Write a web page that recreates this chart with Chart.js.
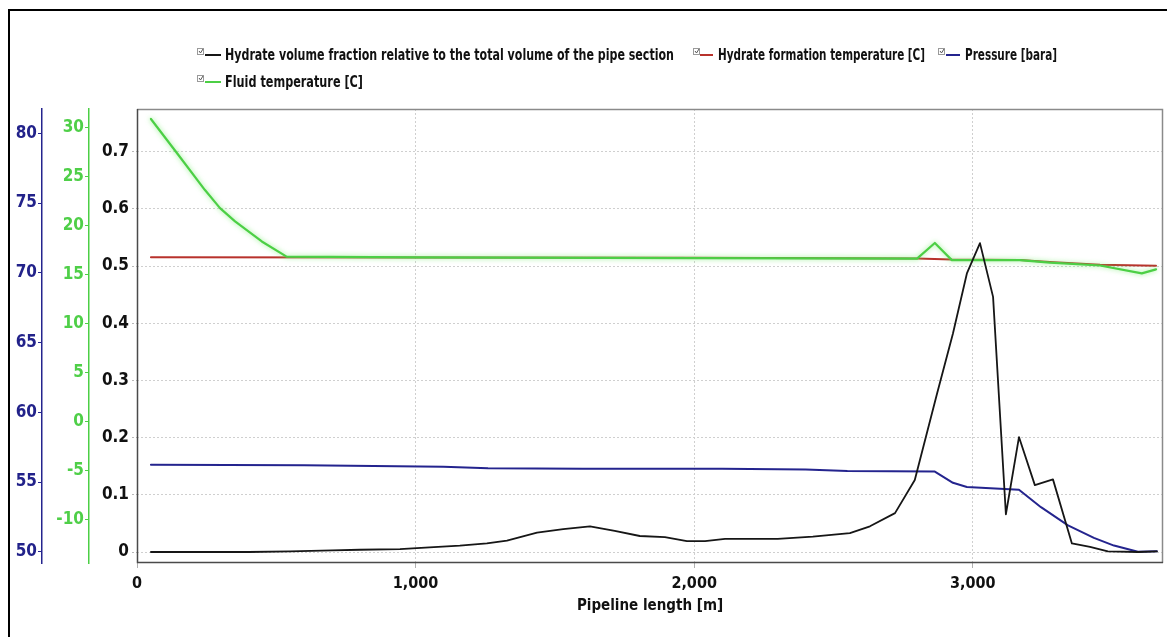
<!DOCTYPE html>
<html><head><meta charset="utf-8">
<script src="https://cdn.jsdelivr.net/npm/chart.js@4.4.1/dist/chart.umd.min.js"></script>
<style>
html,body{margin:0;padding:0;background:#fff;}
#wrap{position:relative;width:1167px;height:637px;overflow:hidden;background:#fff;}
#frame{position:absolute;left:8px;top:9px;width:1300px;height:800px;border-left:2.5px solid #000;border-top:2.5px solid #000;}
canvas{position:absolute;left:0;top:0;}
</style></head><body>
<div id="wrap"><div id="frame"></div><canvas id="c" width="1167" height="637"></canvas></div>
<script>
// ---- data ----
const hydrateLen = [50, 200, 400, 550, 700, 800, 944, 1050, 1159, 1256, 1328, 1436, 1530, 1626, 1715, 1805, 1895, 1974, 2039, 2111, 2200, 2300, 2426, 2559, 2631, 2721, 2792, 2872, 2929, 2979, 3026, 3073, 3119, 3166, 3223, 3288, 3356, 3421, 3485, 3593, 3661];
const hydrateFrac = [0, 0, 0, 0.001, 0.003, 0.004, 0.005, 0.008, 0.011, 0.015, 0.020, 0.034, 0.040, 0.045, 0.037, 0.028, 0.026, 0.019, 0.019, 0.023, 0.023, 0.023, 0.027, 0.033, 0.045, 0.068, 0.126, 0.277, 0.382, 0.487, 0.540, 0.446, 0.066, 0.201, 0.117, 0.127, 0.015, 0.009, 0.001, 0, 0.001];

const pressureLen = [50, 600, 1100, 1260, 1600, 2100, 2400, 2550, 2864, 2929, 2979, 3166, 3245, 3342, 3435, 3507, 3593, 3661];
const pressureBar = [56.25, 56.2, 56.1, 56.0, 55.95, 55.95, 55.9, 55.8, 55.75, 54.95, 54.65, 54.45, 53.2, 51.9, 51.0, 50.45, 50.0, 50.05];

const fluidLen = [50, 148, 244, 298, 352, 448, 537, 1000, 2000, 2800, 2864, 2925, 3169, 3277, 3457, 3607, 3658];
const fluidT = [30.85, 27.2, 23.6, 21.75, 20.4, 18.35, 16.8, 16.72, 16.66, 16.6, 18.2, 16.45, 16.45, 16.2, 15.9, 15.1, 15.5];

const formLen = [50, 1000, 2000, 2800, 2925, 3169, 3277, 3457, 3658];
const formT = [16.73, 16.72, 16.68, 16.62, 16.5, 16.45, 16.25, 15.97, 15.88];

const xTickValues = [0, 1000, 2000, 3000];

const seriesNames = [
  "Hydrate volume fraction relative to the total volume of the pipe section",
  "Hydrate formation temperature [C]",
  "Pressure [bara]",
  "Fluid temperature [C]"
];
const xTitle = "Pipeline length [m]";

// ---- styling ----
const FONT = '"Liberation Sans Narrow", "DejaVu Sans Condensed", "Arial Narrow", sans-serif';
const C_BLACK = '#161616', C_RED = '#b8322c', C_BLUE = '#24248e', C_GREEN = '#4ccf45';
const C_BLUE_TXT = '#22228a', C_GREEN_TXT = '#4fcf48';

const pts = (xs, ys) => xs.map((x, i) => ({x: x, y: ys[i]}));

const framePlugin = {
  id: 'frame',
  beforeDatasetsDraw(chart) {
    const {ctx, chartArea: a} = chart;
    ctx.save();
    ctx.lineWidth = 1.5;
    ctx.strokeStyle = '#8a8a8a';
    ctx.beginPath();
    ctx.moveTo(a.left, a.top + 0.5); ctx.lineTo(a.right - 0.5, a.top + 0.5); ctx.lineTo(a.right - 0.5, a.bottom);
    ctx.stroke();
    ctx.strokeStyle = '#4a4a4a';
    ctx.beginPath();
    ctx.moveTo(a.left + 0.5, a.top); ctx.lineTo(a.left + 0.5, a.bottom - 0.5); ctx.lineTo(a.right, a.bottom - 0.5);
    ctx.stroke();
    ctx.restore();
  }
};

const glowPlugin = {
  id: 'glow',
  beforeDatasetDraw(chart, args) {
    if (args.index === 1) {
      chart.ctx.save();
      chart.ctx.shadowColor = 'rgba(110,235,100,0.75)';
      chart.ctx.shadowBlur = 5;
    }
  },
  afterDatasetDraw(chart, args) {
    if (args.index === 1) chart.ctx.restore();
  }
};

const legendPlugin = {
  id: 'customLegend',
  afterDraw(chart) {
    const ctx = chart.ctx;
    const items = [
      {box: 197, l1: 205, l2: 221, tx: 225, w: 449, y: 55, color: C_BLACK, text: seriesNames[0]},
      {box: 693, l1: 700, l2: 713, tx: 718, w: 207, y: 55, color: C_RED, text: seriesNames[1]},
      {box: 938, l1: 946, l2: 960, tx: 965, w: 92, y: 55, color: C_BLUE, text: seriesNames[2]},
      {box: 197, l1: 205, l2: 221, tx: 225, w: 138, y: 82, color: C_GREEN, text: seriesNames[3]}
    ];
    ctx.save();
    ctx.font = 'bold 15px ' + FONT;
    ctx.textBaseline = 'middle';
    for (const it of items) {
      ctx.strokeStyle = '#9a9a9a'; ctx.lineWidth = 1;
      ctx.strokeRect(it.box + 0.5, it.y - 6.5, 6, 6);
      ctx.strokeStyle = '#555'; ctx.lineWidth = 1;
      ctx.beginPath(); ctx.moveTo(it.box + 2, it.y - 4); ctx.lineTo(it.box + 3.5, it.y - 2); ctx.lineTo(it.box + 6, it.y - 6); ctx.stroke();
      ctx.strokeStyle = it.color; ctx.lineWidth = 2;
      ctx.beginPath(); ctx.moveTo(it.l1, it.y); ctx.lineTo(it.l2, it.y); ctx.stroke();
      ctx.fillStyle = '#111';
      const nat = ctx.measureText(it.text).width;
      if (nat > it.w) ctx.fillText(it.text, it.tx, it.y + 1, it.w); else ctx.fillText(it.text, it.tx, it.y + 1);
    }
    ctx.restore();
  }
};

const gridDash = [2, 2];

new Chart(document.getElementById('c'), {
  type: 'line',
  data: {
    datasets: [
      {label: seriesNames[0], data: pts(hydrateLen, hydrateFrac), yAxisID: 'y', borderColor: C_BLACK, borderWidth: 1.8},
      {label: seriesNames[3], data: pts(fluidLen, fluidT), yAxisID: 'yT', borderColor: C_GREEN, borderWidth: 2.2},
      {label: seriesNames[1], data: pts(formLen, formT), yAxisID: 'yT', borderColor: C_RED, borderWidth: 2},
      {label: seriesNames[2], data: pts(pressureLen, pressureBar), yAxisID: 'yP', borderColor: C_BLUE, borderWidth: 2}
    ]
  },
  options: {
    responsive: false,
    animation: false,
    elements: {point: {radius: 0}, line: {tension: 0, borderJoinStyle: 'round', borderCapStyle: 'round'}},
    layout: {padding: {left: 10, top: 109, right: 4, bottom: 0}},
    plugins: {legend: {display: false}, tooltip: {enabled: false}, title: {display: false}},
    scales: {
      x: {
        type: 'linear', position: 'bottom', min: 0, max: 3683,
        afterBuildTicks: s => { s.ticks = xTickValues.map(v => ({value: v})); },
        ticks: {maxRotation: 0, autoSkip: false, color: '#111', padding: 6,
                font: {family: FONT, size: 16, weight: 'bold'},
                callback: v => Number(v).toLocaleString('en-US')},
        grid: {color: '#cfcfcf', lineWidth: 1, drawTicks: true, tickLength: 5, tickColor: '#b0b0b0', tickBorderDash: []},
        border: {display: false, dash: gridDash},
        title: {display: true, text: xTitle, color: '#111', font: {family: FONT, size: 15, weight: 'bold'}, padding: {top: 0, bottom: 22}},
        afterFit: s => { s.height = 74; s.paddingRight = 0; s.paddingLeft = 0; }
      },
      y: {
        type: 'linear', position: 'left', weight: 0, min: -0.0192, max: 0.7745,
        ticks: {stepSize: 0.1, includeBounds: false, color: '#111', padding: 3,
                font: {family: FONT, size: 17, weight: 'bold'},
                callback: v => String(Math.round(v * 10) / 10)},
        grid: {color: '#cfcfcf', lineWidth: 1, drawTicks: true, tickLength: 5, tickColor: '#b8b8b8', tickBorderDash: [2, 2]},
        border: {display: false, dash: gridDash},
        afterFit: s => { s.width = 48; }
      },
      yT: {
        type: 'linear', position: 'left', weight: 1, min: -14.46, max: 31.87,
        ticks: {stepSize: 5, includeBounds: false, color: C_GREEN_TXT, padding: 1,
                font: {family: FONT, size: 17, weight: 'bold'}},
        grid: {drawOnChartArea: false, drawTicks: true, tickLength: 4, tickColor: C_GREEN, tickWidth: 1},
        border: {display: true, color: C_GREEN, width: 1.5},
        afterFit: s => { s.width = 47; }
      },
      yP: {
        type: 'linear', position: 'left', weight: 2, min: 49.2, max: 81.74,
        ticks: {stepSize: 5, includeBounds: false, color: C_BLUE_TXT, padding: 1,
                font: {family: FONT, size: 17, weight: 'bold'}},
        grid: {drawOnChartArea: false, drawTicks: true, tickLength: 4, tickColor: C_BLUE, tickWidth: 1},
        border: {display: true, color: C_BLUE, width: 1.5},
        afterFit: s => { s.width = 32; }
      }
    }
  },
  plugins: [framePlugin, glowPlugin, legendPlugin]
});
</script>
</body></html>
